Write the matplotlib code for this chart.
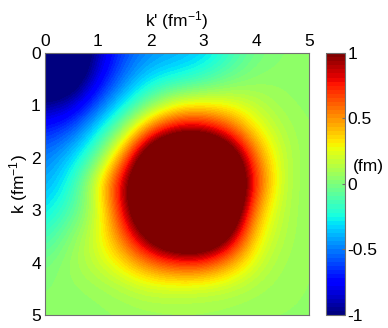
import matplotlib
matplotlib.use('Agg')
import matplotlib.pyplot as plt
import numpy as np

plt.rcParams['font.family'] = ['Liberation Sans', 'DejaVu Sans']
plt.rcParams['mathtext.default'] = 'regular'
plt.rcParams['axes.unicode_minus'] = False

# Rejilla de momentos (fm^-1): filas = k, columnas = k'
k_vals = [0.0, 0.5, 1.0, 1.5, 2.0, 2.5, 3.0, 3.5, 4.0, 4.5, 5.0]
kp_vals = [0.0, 0.5, 1.0, 1.5, 2.0, 2.5, 3.0, 3.5, 4.0, 4.5, 5.0]

# Valores (fm), una lista por fila de k
v_k00 = [-1.40, -1.30, -0.90, -0.60, -0.47, -0.42, -0.35, -0.18, -0.02, 0.03, 0.05]
v_k05 = [-1.30, -1.20, -0.80, -0.50, -0.30, -0.24, -0.16, -0.04, 0.04, 0.05, 0.05]
v_k10 = [-0.95, -0.88, -0.57, -0.28, 0.00, 0.25, 0.28, 0.25, 0.15, 0.07, 0.05]
v_k15 = [-0.68, -0.57, -0.28, 0.08, 0.65, 0.95, 0.95, 0.68, 0.30, 0.12, 0.06]
v_k20 = [-0.50, -0.35, -0.05, 0.55, 1.40, 1.80, 1.80, 1.35, 0.55, 0.15, 0.06]
v_k25 = [-0.42, -0.22, 0.25, 0.95, 1.60, 2.00, 2.00, 1.60, 0.70, 0.14, 0.06]
v_k30 = [-0.30, -0.12, 0.15, 0.85, 1.60, 2.00, 2.00, 1.50, 0.45, 0.13, 0.06]
v_k35 = [-0.17, 0.03, 0.22, 0.60, 1.15, 1.50, 1.50, 1.05, 0.30, 0.12, 0.06]
v_k40 = [-0.02, 0.08, 0.18, 0.35, 0.58, 0.72, 0.72, 0.48, 0.20, 0.09, 0.06]
v_k45 = [0.03, 0.05, 0.07, 0.12, 0.18, 0.17, 0.16, 0.14, 0.10, 0.07, 0.06]
v_k50 = [0.04, 0.04, 0.05, 0.06, 0.07, 0.08, 0.08, 0.07, 0.06, 0.06, 0.06]

cbar_ticks = [-1, -0.5, 0, 0.5, 1]
cbar_labels = ['-1', '-0.5', '0', '0.5', '1']
axis_ticks = [0, 1, 2, 3, 4, 5]

V = np.array([v_k00, v_k05, v_k10, v_k15, v_k20, v_k25,
              v_k30, v_k35, v_k40, v_k45, v_k50])
dk = k_vals[1] - k_vals[0]
fs = 12.5

fig = plt.figure(figsize=(3.88, 3.28), dpi=100)
ax = fig.add_axes([0.116, 0.0396, 0.680, 0.799])

im = ax.imshow(V, cmap=plt.get_cmap('jet', 64), vmin=-1, vmax=1,
               extent=[kp_vals[0] - dk / 2, kp_vals[-1] + dk / 2,
                       k_vals[-1] + dk / 2, k_vals[0] - dk / 2],
               interpolation='bicubic', interpolation_stage='data',
               aspect='auto')
ax.set_xlim(0, 5)
ax.set_ylim(5, 0)
ax.xaxis.tick_top()
ax.xaxis.set_label_position('top')
ax.set_xticks(axis_ticks)
ax.set_yticks(axis_ticks)
ax.tick_params(length=0, labelsize=fs, pad=3)
ax.set_xlabel("k' (fm$^{-1}$)", fontsize=fs, labelpad=5)
ax.set_ylabel("k (fm$^{-1}$)", fontsize=fs, labelpad=1)
for s in ax.spines.values():
    s.set_color('#707070')
    s.set_linewidth(0.8)

cax = fig.add_axes([0.840, 0.0396, 0.049, 0.799])
cb = fig.colorbar(im, cax=cax, ticks=cbar_ticks)
cb.ax.set_yticklabels(cbar_labels)
cb.ax.tick_params(labelsize=fs, length=2, direction='in', pad=2, color='#707070')
cb.outline.set_edgecolor('#707070')
cb.outline.set_linewidth(0.8)

fig.text(353 / 388, 1 - 167 / 328, '(fm)', fontsize=fs, va='center', ha='left')

fig.savefig('out.png', dpi=100)
